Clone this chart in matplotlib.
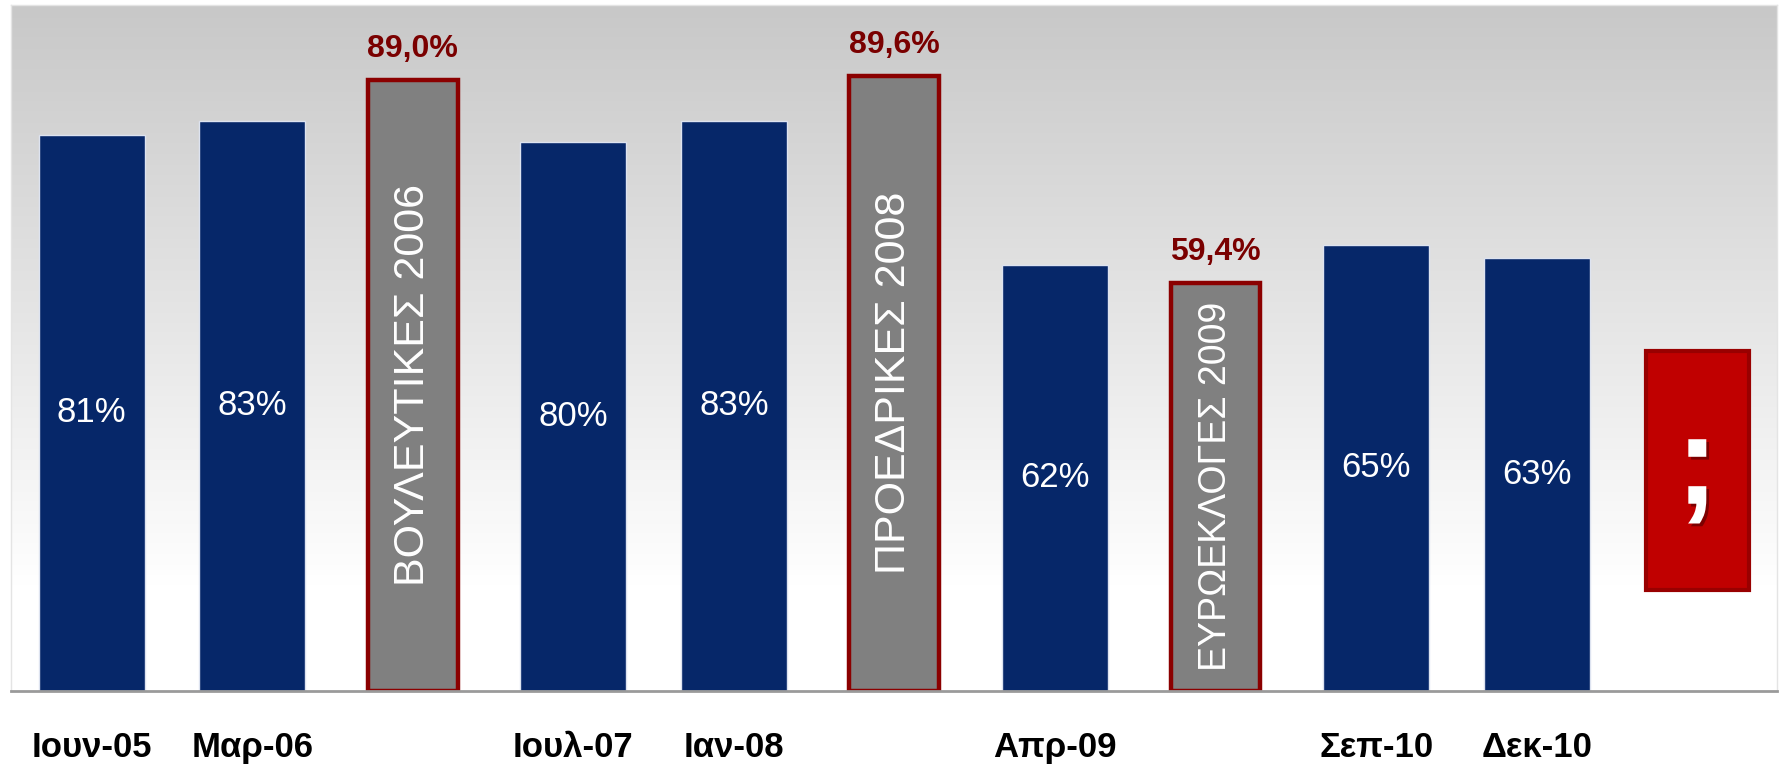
import matplotlib.pyplot as plt
import matplotlib.patheffects as pe
import numpy as np
from matplotlib.colors import LinearSegmentedColormap

plt.rcParams["font.family"] = ["Liberation Sans", "DejaVu Sans"]

# poll / election sequence, left to right
labels = ["Ιουν-05", "Μαρ-06", "ΒΟΥΛΕΥΤΙΚΕΣ 2006", "Ιουλ-07", "Ιαν-08",
          "ΠΡΟΕΔΡΙΚΕΣ 2008", "Απρ-09", "ΕΥΡΩΕΚΛΟΓΕΣ 2009", "Σεπ-10", "Δεκ-10"]
values = [81, 83, 89.0, 80, 83, 89.6, 62, 59.4, 65, 63]
is_election = [False, False, True, False, False, True, False, True, False, False]

# the open question at the end
next_label = ";"
next_range = [14.6, 49.5]

BLUE = "#062769"
GREY = "#808080"
DARKRED = "#8b0000"

fig = plt.figure(figsize=(17.81, 7.67), dpi=100)
ax = fig.add_axes([0.0064, 0.0996, 0.9916, 0.8945])

n = len(labels) + 1
ax.set_xlim(-0.5, n - 0.5)
ax.set_ylim(0, 100)

# grey-to-white background
grad = np.linspace(0, 1, 256).reshape(-1, 1)
grad = np.clip((grad - 0.15) / 0.85, 0, 1)
ax.imshow(grad, extent=(-0.5, n - 0.5, 0, 100), origin="lower", aspect="auto",
          cmap=LinearSegmentedColormap.from_list("bg", ["#ffffff", "#c8c8c8"]), zorder=0)

x = np.arange(len(labels))
for xi, lab, val, elec in zip(x, labels, values, is_election):
    if elec:
        ax.bar(xi, val, width=0.56, color=GREY, edgecolor=DARKRED, linewidth=3.2, zorder=2)
        ax.text(xi, val / 2, lab, rotation=90, ha="center", va="center",
                color="white", fontsize=31 if val > 80 else 27, zorder=3)
        ax.text(xi, val + 4.5, f"{val:.1f}%".replace(".", ","), ha="center", va="center",
                color="#7a0000", fontsize=23, fontweight="bold", zorder=3)
    else:
        ax.bar(xi, val, width=0.66, color=BLUE, edgecolor="#dde3f0", linewidth=1, zorder=2)
        ax.text(xi, val / 2, f"{val:.0f}%", ha="center", va="center",
                color="white", fontsize=25, zorder=3)

# red box with the question mark
xq = len(labels)
ax.bar(xq, next_range[1] - next_range[0], bottom=next_range[0], width=0.64,
       color="#c00000", edgecolor="#990000", linewidth=3, zorder=2)
ax.text(xq, sum(next_range) / 2, next_label, ha="center", va="center", color="white",
        fontsize=92, fontweight="bold", zorder=3,
        path_effects=[pe.SimplePatchShadow(offset=(2, -2), shadow_rgbFace="black", alpha=0.35),
                      pe.Normal()])

tick_labels = ["" if e else lab for lab, e in zip(labels, is_election)] + [""]
ax.set_xticks(np.arange(n))
ax.set_xticklabels(tick_labels, fontsize=25, fontweight="bold", color="black")
ax.tick_params(axis="x", length=0, pad=29)
ax.set_yticks([])

for side in ["left", "top", "right"]:
    ax.spines[side].set_color("#e4e4e4")
    ax.spines[side].set_linewidth(1)
ax.spines["bottom"].set_color("#9a9a9a")
ax.spines["bottom"].set_linewidth(2)

fig.savefig("out.png", dpi=100)
